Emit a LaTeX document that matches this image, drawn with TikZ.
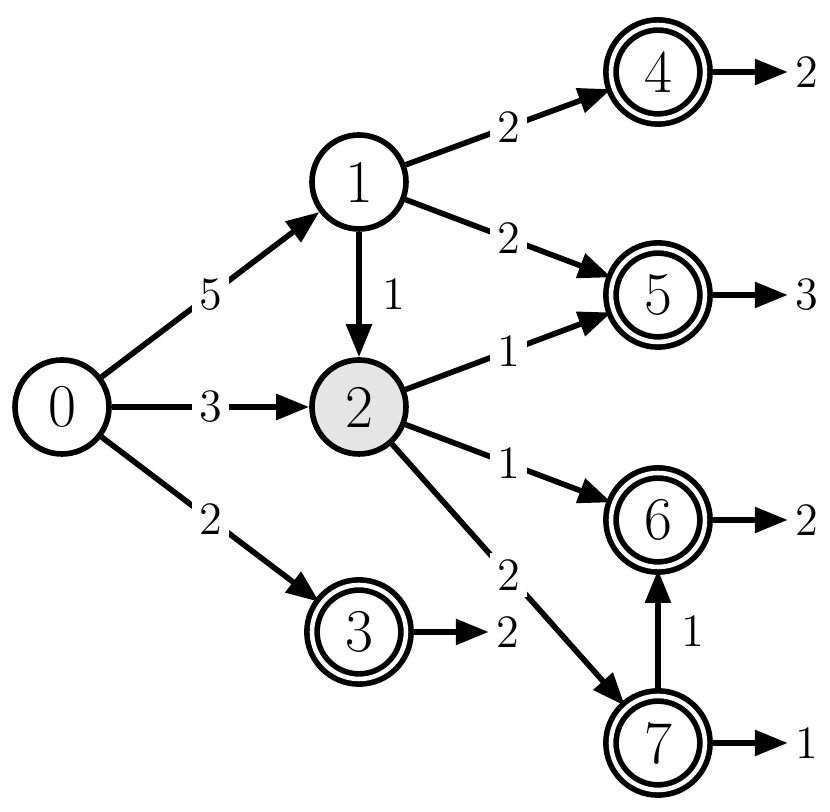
\documentclass[tikz,border=0pt]{standalone}
\usetikzlibrary{arrows.meta,positioning}
\begin{document}
\begin{tikzpicture}[
zustand/.style={circle,draw,line width=1.6pt,minimum size=0.94cm,inner sep=0pt,font=\LARGE},
ende/.style={zustand,double,double distance=1.3pt},
gewicht/.style={font=\fontsize{13.2}{15}\selectfont,inner sep=2pt},
marke/.style={gewicht,fill=white},
kante/.style={line width=1.6pt,-{Triangle[length=3.3mm,width=2.5mm]}}
]
\useasboundingbox (-0.62,-4.05) rectangle (7.68,4.07);

%Zustaende
\node[zustand] (q0) at (0,0) {0};
\node[zustand] (q1) at (2.97,2.25) {1};
\node[zustand,fill=black!10] (q2) at (2.97,0) {2};
\foreach \n/\x/\y in
{
3/2.97/-2.25,
4/5.96/3.35,
5/5.96/1.12,
6/5.96/-1.13,
7/5.96/-3.36
}
{
	\node[ende] (q\n) at (\x,\y) {\n};
}

%Uebergaenge
\foreach \a/\b/\w in
{
0/1/5,
0/2/3,
0/3/2,
1/4/2,
1/5/2,
2/5/1,
2/6/1,
2/7/2
}
{
	\draw[kante] (q\a) -- node[marke] {\w} (q\b);
}
\draw[kante] (q1) -- node[gewicht,right=0.14cm] {1} (q2);
\draw[kante] (q7) -- node[gewicht,right=0.14cm] {1} (q6);

%Endgewichte
\foreach \n/\w in
{
3/2,
4/2,
5/3,
6/2,
7/1
}
{
	\node[gewicht,right=0.8cm of q\n] (w\n) {\w};
	\draw[kante] (q\n) -- (w\n);
}

\end{tikzpicture}
\end{document}
